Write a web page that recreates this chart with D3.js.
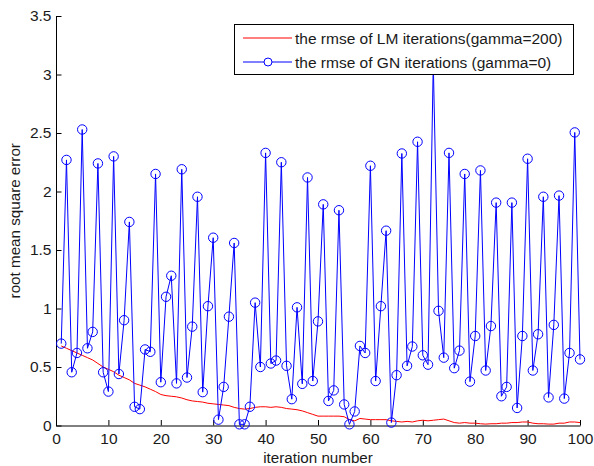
<!DOCTYPE html>
<html>
<head>
<meta charset="utf-8">
<script src="https://cdn.jsdelivr.net/npm/d3@7"></script>
<style>
  body { margin: 0; background: #fff; }
  svg { display: block; }
  text { font-family: "Liberation Sans", Arial, sans-serif; fill: #1a1a1a; }
</style>
</head>
<body>
<div id="chart"></div>
<script>
// iteration index 1..100
var iterations = d3.range(1, 101);

// rmse of LM iterations (gamma=200)
var lmRmse = [
  0.68, 0.66, 0.64, 0.62, 0.60, 0.58, 0.56, 0.53, 0.50, 0.48,
  0.46, 0.43, 0.41, 0.39, 0.36, 0.345, 0.33, 0.31, 0.29, 0.265,
  0.255, 0.25, 0.245, 0.235, 0.22, 0.21, 0.205, 0.20, 0.19, 0.185,
  0.18, 0.175, 0.17, 0.155, 0.145, 0.14, 0.145, 0.155, 0.16, 0.16,
  0.155, 0.16, 0.155, 0.145, 0.14, 0.135, 0.125, 0.11, 0.095, 0.08,
  0.08, 0.08, 0.08, 0.08, 0.075, 0.05, 0.04, 0.06, 0.055, 0.05,
  0.05, 0.05, 0.05, 0.04, 0.035, 0.03, 0.035, 0.03, 0.04, 0.045,
  0.04, 0.045, 0.05, 0.055, 0.04, 0.025, 0.02, 0.025, 0.02, 0.02,
  0.015, 0.012, 0.015, 0.015, 0.02, 0.02, 0.025, 0.025, 0.03, 0.03,
  0.02, 0.015, 0.015, 0.012, 0.012, 0.02, 0.02, 0.03, 0.03, 0.025
];

// rmse of GN iterations (gamma=0)
var gnRmse = [
  0.70, 2.27, 0.455, 0.62, 2.53, 0.66, 0.80, 2.24, 0.455, 0.29,
  2.30, 0.44, 0.90, 1.74, 0.16, 0.14, 0.65, 0.63, 2.15, 0.37,
  1.10, 1.28, 0.36, 2.19, 0.41, 0.845, 1.955, 0.285, 1.02, 1.605,
  0.05, 0.33, 0.93, 1.56, 0.01, 0.01, 0.16, 1.05, 0.50, 2.33,
  0.53, 0.555, 2.25, 0.51, 0.225, 1.01, 0.356, 2.12, 0.38, 0.89,
  1.89, 0.21, 0.30, 1.84, 0.18, 0.01, 0.12, 0.68, 0.62, 2.22,
  0.38, 1.02, 1.665, 0.025, 0.43, 2.325, 0.51, 0.675, 2.425, 0.60,
  0.52, 3.10, 0.98, 0.58, 2.33, 0.49, 0.64, 2.15, 0.375, 0.765,
  2.18, 0.47, 0.85, 1.905, 0.25, 0.33, 1.905, 0.15, 0.765, 2.28,
  0.47, 0.78, 1.955, 0.24, 0.86, 1.965, 0.23, 0.62, 2.505, 0.565
];

var xTicks = d3.range(0, 101, 10);
var yTicks = [0, 0.5, 1, 1.5, 2, 2.5, 3, 3.5];

var legendLabels = [
  "the rmse of LM iterations(gamma=200)",
  "the rmse of GN iterations (gamma=0)"
];

var width = 594,
    height = 466,
    plotLeft = 56, plotRight = 580, plotTop = 16, plotBottom = 425.5;

var svg = d3.select("#chart").append("svg")
    .attr("width", width)
    .attr("height", height);

var x = d3.scaleLinear().domain([0, 100]).range([plotLeft, plotRight]);
var y = d3.scaleLinear().domain([0, 3.5]).range([plotBottom, plotTop]);

var fontSize = "15.5px";

// axes, ticks pointing inward
var xAxis = svg.append("g")
    .attr("transform", "translate(0," + plotBottom + ")")
    .call(d3.axisBottom(x).tickValues(xTicks).tickSizeInner(-5.5).tickSizeOuter(0).tickPadding(7.5));

var yAxis = svg.append("g")
    .attr("transform", "translate(" + plotLeft + ",0)")
    .call(d3.axisLeft(y).tickValues(yTicks).tickFormat(d3.format("~g"))
      .tickSizeInner(-5.5).tickSizeOuter(0).tickPadding(4.5));

[xAxis, yAxis].forEach(function(g) {
  g.attr("font-family", null).attr("font-size", null);
  g.selectAll("text").style("font-size", fontSize);
  g.selectAll("path, line").attr("stroke", "#000").attr("stroke-width", 1);
});

// axis labels
svg.append("text")
    .attr("x", (plotLeft + plotRight) / 2)
    .attr("y", 463)
    .attr("text-anchor", "middle")
    .style("font-size", "15.2px")
    .text("iteration number");

svg.append("text")
    .attr("transform", "translate(20," + (plotTop + plotBottom) / 2 + ") rotate(-90)")
    .attr("text-anchor", "middle")
    .style("font-size", "15.2px")
    .text("root mean square error");

// LM line (red)
var line = d3.line()
    .x(function(d, i) { return x(iterations[i]); })
    .y(function(d) { return y(d); });

svg.append("path")
    .datum(lmRmse)
    .attr("fill", "none")
    .attr("stroke", "#ff0000")
    .attr("stroke-width", 1)
    .attr("d", line);

// GN line (blue) with circles
svg.append("path")
    .datum(gnRmse)
    .attr("fill", "none")
    .attr("stroke", "#0000ff")
    .attr("stroke-width", 1)
    .attr("d", line);

svg.selectAll(".gn")
    .data(gnRmse)
  .enter().append("circle")
    .attr("class", "gn")
    .attr("cx", function(d, i) { return x(iterations[i]); })
    .attr("cy", function(d) { return y(d); })
    .attr("r", 4.7)
    .attr("fill", "none")
    .attr("stroke", "#0000ff")
    .attr("stroke-width", 1);

// legend
var legend = svg.append("g").attr("transform", "translate(234,24)");

legend.append("rect")
    .attr("x", 0.5).attr("y", 0.5)
    .attr("width", 339).attr("height", 50)
    .attr("fill", "#fff")
    .attr("stroke", "#000")
    .attr("stroke-width", 1);

var legendColors = ["#ff0000", "#0000ff"];

legendLabels.forEach(function(label, i) {
  var ly = 14 + i * 24;
  legend.append("line")
      .attr("x1", 9).attr("x2", 58)
      .attr("y1", ly).attr("y2", ly)
      .attr("stroke", legendColors[i])
      .attr("stroke-width", 1);
  if (i == 1) {
    legend.append("circle")
        .attr("cx", 34).attr("cy", ly).attr("r", 4)
        .attr("fill", "#fff")
        .attr("stroke", legendColors[i]);
  }
  legend.append("text")
      .attr("x", 61)
      .attr("y", ly + 6)
      .style("font-size", fontSize)
      .text(label);
});
</script>
</body>
</html>
